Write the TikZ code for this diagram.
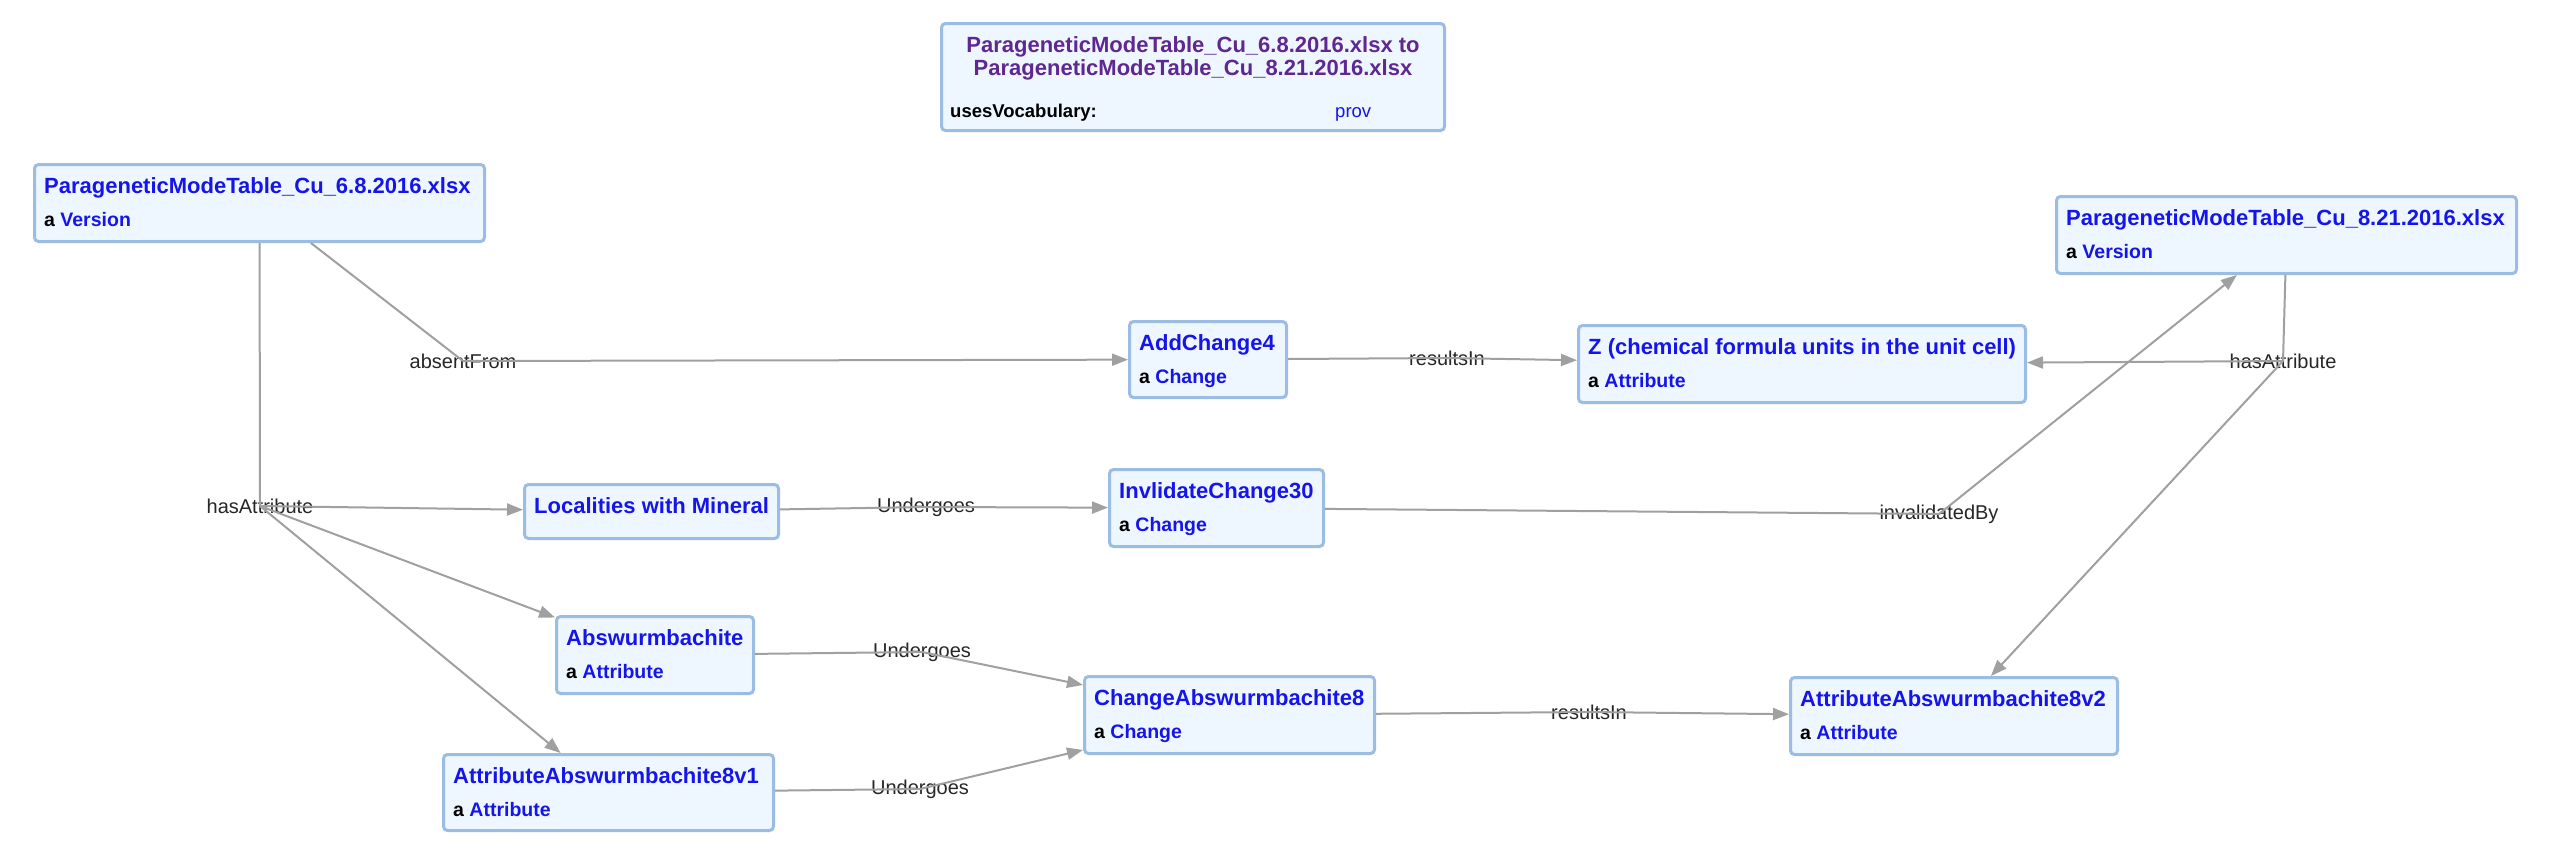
\documentclass[tikz,border=0pt]{standalone}
\usepackage{fontspec}
\setmainfont{Liberation Sans}
\usetikzlibrary{arrows.meta}
\definecolor{boxfill}{RGB}{238,246,255}
\definecolor{boxline}{RGB}{155,189,228}
\definecolor{nodeblue}{RGB}{20,20,235}
\definecolor{titlepurple}{RGB}{95,40,145}
\definecolor{edgegray}{RGB}{160,160,160}
\tikzset{
  ebox/.style={draw=boxline, fill=boxfill, line width=3pt, rounded corners=4pt, inner sep=0pt, anchor=north west},
  etitle/.style={anchor=base west, inner sep=0pt, text=nodeblue, font=\fontsize{22}{26}\selectfont\bfseries},
  esub/.style={anchor=base west, inner sep=0pt, font=\fontsize{19.5}{23}\selectfont\bfseries},
  elab/.style={inner sep=0pt, font=\fontsize{20}{24}\selectfont, text=black!85},
  edge/.style={draw=edgegray, line width=2pt},
  arr/.style={edge, -{Triangle[length=16pt,width=12pt]}},
}
\newcommand\entity[7]{%
  \node[ebox, minimum width=#4pt, minimum height=#5pt] (#1) at (#2,#3) {};
  \node[etitle] (#1-t) at ([xshift=11pt,yshift=-30pt]#1.north west) {#6};
  \node[esub] (#1-s) at ([xshift=11pt,yshift=-63pt]#1.north west) {a \textcolor{nodeblue}{#7}};
}
\begin{document}
\begin{tikzpicture}[x=1pt,y=-1pt]
\useasboundingbox[fill=white] (0,0) rectangle (2550,860);

% header box
\node[ebox, minimum width=503pt, minimum height=107pt] (hdr) at (940,22) {};
\node[anchor=base, inner sep=0pt, text=titlepurple, font=\fontsize{22}{26}\selectfont\bfseries] (hdr-l1) at ([yshift=-30pt]hdr.north) {ParageneticModeTable\_Cu\_6.8.2016.xlsx to};
\node[anchor=base, inner sep=0pt, text=titlepurple, font=\fontsize{22}{26}\selectfont\bfseries] (hdr-l2) at ([yshift=-53pt]hdr.north) {ParageneticModeTable\_Cu\_8.21.2016.xlsx};
\node[anchor=base west, inner sep=0pt, font=\fontsize{18.5}{22}\selectfont\bfseries] (hdr-k) at ([xshift=10pt,yshift=-95pt]hdr.north west) {usesVocabulary:};
\node[anchor=base west, inner sep=0pt, text=nodeblue, font=\fontsize{18.5}{22}\selectfont] (hdr-v) at ([xshift=395pt,yshift=-95pt]hdr.north west) {prov};

% entities
\entity{v1}{33}{163}{450}{77}{ParageneticModeTable\_Cu\_6.8.2016.xlsx}{Version}
\entity{v2}{2055}{195}{460}{77}{ParageneticModeTable\_Cu\_8.21.2016.xlsx}{Version}
\entity{add}{1128}{320}{157}{76}{AddChange4}{Change}
\entity{z}{1577}{324}{447}{77}{Z (chemical formula units in the unit cell)}{Attribute}
\node[ebox, minimum width=254pt, minimum height=54pt] (loc) at (523,483) {};
\node[etitle] (loc-t) at ([xshift=11pt,yshift=-30pt]loc.north west) {Localities with Mineral};
\entity{inv}{1108}{468}{214}{77}{InvlidateChange30}{Change}
\entity{absw}{555}{615}{197}{77}{Abswurmbachite}{Attribute}
\entity{chg}{1083}{675}{290}{77}{ChangeAbswurmbachite8}{Change}
\entity{av1}{442}{753}{330}{76}{AttributeAbswurmbachite8v1}{Attribute}
\entity{av2}{1789}{676}{327}{77}{AttributeAbswurmbachite8v2}{Attribute}

% edge labels
\node[elab] (labAbsent) at (463,361) {absentFrom};
\node[elab] (labRes1) at (1447,358) {resultsIn};
\node[elab] (labHas2) at (2283,361) {hasAttribute};
\node[elab] (labHas1) at (260,506) {hasAttribute};
\node[elab] (labUnd1) at (926,507) {Undergoes};
\node[elab] (labInv) at (1939,514) {invalidatedBy};
\node[elab] (labUnd2) at (922,652) {Undergoes};
\node[elab] (labUnd3) at (920,789) {Undergoes};
\node[elab] (labRes2) at (1589,712) {resultsIn};

% edges
\draw[edge] (v1) -- (labAbsent.center);
\draw[arr] (labAbsent.center) -- (add);
\draw[edge] (add) -- (labRes1.center);
\draw[arr] (labRes1.center) -- (z);
\draw[edge] (v2) -- (labHas2.center);
\draw[arr] (labHas2.center) -- (z);
\draw[arr] (labHas2.center) -- (av2);
\draw[edge] (v1) -- (labHas1.center);
\draw[arr] (labHas1.center) -- (loc);
\draw[arr] (labHas1.center) -- (absw);
\draw[arr] (labHas1.center) -- (av1);
\draw[edge] (loc) -- (labUnd1.center);
\draw[arr] (labUnd1.center) -- (inv);
\draw[edge] (inv) -- (labInv.center);
\draw[arr] (labInv.center) -- (v2);
\draw[edge] (absw) -- (labUnd2.center);
\draw[arr] (labUnd2.center) -- (chg);
\draw[edge] (av1) -- (labUnd3.center);
\draw[arr] (labUnd3.center) -- (chg);
\draw[edge] (chg) -- (labRes2.center);
\draw[arr] (labRes2.center) -- (av2);
\end{tikzpicture}
\end{document}
